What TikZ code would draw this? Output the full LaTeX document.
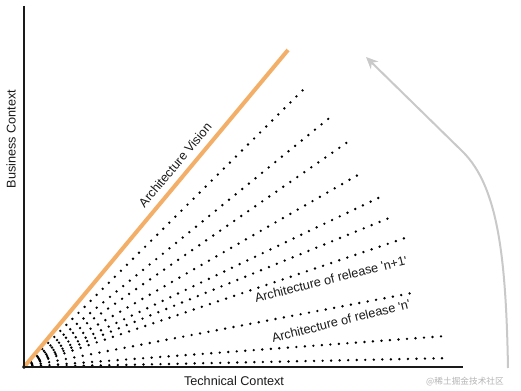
\documentclass[tikz,border=0pt]{standalone}
\usepackage{fontspec}
\setmainfont{Liberation Sans}
\newfontfamily\cjkfont{Noto Sans CJK SC}
\usetikzlibrary{arrows.meta, calc}
\definecolor{vision}  {HTML}{F3AE67}
\definecolor{sweep}   {HTML}{C9C9C9}
\definecolor{ink}     {HTML}{1A1A1A}
\definecolor{wmark}   {HTML}{B4B4B4}

\tikzset{
  axisline/.style={ink, line width=1.5pt},
  release/.style={black, line width=2pt, line cap=round, dash pattern=on 0pt off 6.4pt},
  label/.style={text=ink, font=\fontsize{9.5}{11}\selectfont, inner sep=0pt}
}

\begin{document}
\begin{tikzpicture}[x=0.75pt, y=0.75pt]
    \useasboundingbox (-24,-24) rectangle (497,367);
    \coordinate (O) at (0,0);
    \coordinate (ytop) at (0,361);
    \coordinate (xend) at (439,0);

    % one dotted ray per release, angle/length
    \foreach \ang/\len [count=\i] in {%
      44.8/395, 39.2/396, 34.8/399, 29.9/389, 25.5/397,
      22.2/397, 18.7/405, 10.8/396, 4.2/424, 1.2/426}
      {\coordinate (r\i) at (\ang:\len);
       \draw[release] (O) -- (r\i);}

    \coordinate (vend) at (264,317);
    \draw[vision, line width=3pt] (O) -- (vend);

    \draw[axisline] (ytop) -- (O) -- (xend);

    \node[label, rotate=50] (vis) at (151,202) {Architecture Vision};
    \node[label, rotate=14] (next) at (307,88)
      {Architecture of release \textquotesingle n+1\textquotesingle};
    \node[label, rotate=14] (cur) at (317,46)
      {Architecture of release \textquotesingle n\textquotesingle};
    \node[label] (tech) at (210,-14) {Technical Context};
    \node[label, rotate=90] (bus) at (-13,228) {Business Context};

    % sweep of evolution
    \coordinate (sweepfrom) at (484,-1);
    \coordinate (sweepbend) at (439,215);
    \coordinate (sweepto) at (342,310);
    \draw[sweep, line width=1.5pt, -{Stealth[length=9pt, width=8pt]}]
      (sweepfrom) .. controls (482,110) and (474,180) .. (sweepbend) -- (sweepto);

    \node[text=wmark, font=\cjkfont\fontsize{6.5}{8}\selectfont, inner sep=0pt] (mark)
      at (441,-15) {@稀土掘金技术社区};
  \end{tikzpicture}
\end{document}
